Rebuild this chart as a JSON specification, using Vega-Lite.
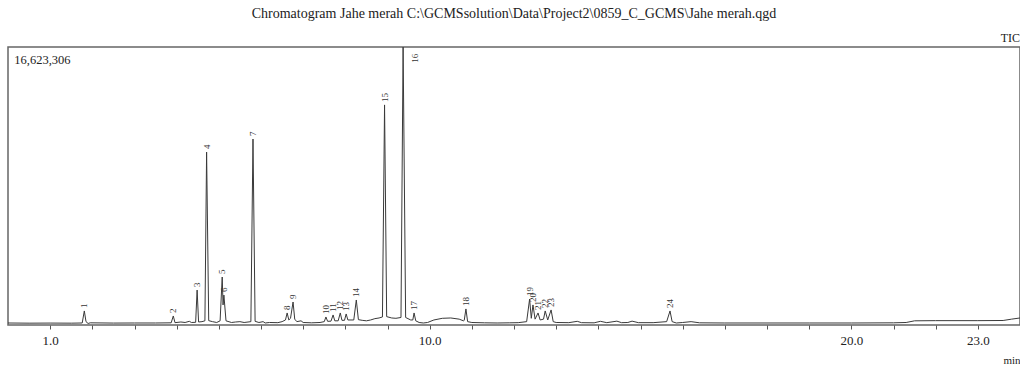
{
  "$schema": "https://vega.github.io/schema/vega-lite/v6.json",
  "width": 1012,
  "height": 278,
  "autosize": {"type": "none"},
  "padding": {"left": 8, "top": 47, "right": 0, "bottom": 40},
  "title": {
    "text": "Chromatogram Jahe merah C:\\GCMSsolution\\Data\\Project2\\0859_C_GCMS\\Jahe merah.qgd",
    "font": "Liberation Serif",
    "fontSize": 14,
    "fontWeight": "normal",
    "color": "#222",
    "anchor": "middle",
    "offset": 11
  },
  "config": {
    "view": {"stroke": "#666", "strokeWidth": 1.5},
    "font": "Liberation Serif"
  },
  "datasets": {
    "tic": [
      {"time": 0.0, "intensity": 120000},
      {"time": 0.5, "intensity": 110000},
      {"time": 1.0, "intensity": 115000},
      {"time": 1.5, "intensity": 110000},
      {"time": 1.76, "intensity": 120000},
      {"time": 1.81, "intensity": 840000},
      {"time": 1.85, "intensity": 200000},
      {"time": 1.9, "intensity": 90000},
      {"time": 1.95, "intensity": 130000},
      {"time": 2.5, "intensity": 115000},
      {"time": 3.0, "intensity": 120000},
      {"time": 3.5, "intensity": 120000},
      {"time": 3.87, "intensity": 130000},
      {"time": 3.92, "intensity": 540000},
      {"time": 3.96, "intensity": 140000},
      {"time": 4.1, "intensity": 180000},
      {"time": 4.2, "intensity": 150000},
      {"time": 4.3, "intensity": 220000},
      {"time": 4.35, "intensity": 150000},
      {"time": 4.45, "intensity": 160000},
      {"time": 4.485, "intensity": 2090000},
      {"time": 4.52, "intensity": 180000},
      {"time": 4.6, "intensity": 200000},
      {"time": 4.67, "intensity": 250000},
      {"time": 4.71, "intensity": 10340000},
      {"time": 4.76, "intensity": 260000},
      {"time": 4.85, "intensity": 200000},
      {"time": 4.95, "intensity": 150000},
      {"time": 5.03, "intensity": 250000},
      {"time": 5.08, "intensity": 2870000},
      {"time": 5.10, "intensity": 1200000},
      {"time": 5.12, "intensity": 1790000},
      {"time": 5.17, "intensity": 250000},
      {"time": 5.3, "intensity": 150000},
      {"time": 5.4, "intensity": 180000},
      {"time": 5.5, "intensity": 200000},
      {"time": 5.6, "intensity": 150000},
      {"time": 5.76, "intensity": 200000},
      {"time": 5.81, "intensity": 11120000},
      {"time": 5.86, "intensity": 220000},
      {"time": 5.95, "intensity": 150000},
      {"time": 6.05, "intensity": 200000},
      {"time": 6.1, "intensity": 120000},
      {"time": 6.2, "intensity": 150000},
      {"time": 6.4, "intensity": 140000},
      {"time": 6.5, "intensity": 200000},
      {"time": 6.58, "intensity": 300000},
      {"time": 6.62, "intensity": 720000},
      {"time": 6.66, "intensity": 300000},
      {"time": 6.7, "intensity": 400000},
      {"time": 6.76, "intensity": 1375000},
      {"time": 6.8, "intensity": 350000},
      {"time": 6.85, "intensity": 200000},
      {"time": 6.95, "intensity": 250000},
      {"time": 7.0, "intensity": 150000},
      {"time": 7.2, "intensity": 130000},
      {"time": 7.4, "intensity": 150000},
      {"time": 7.5, "intensity": 200000},
      {"time": 7.54, "intensity": 480000},
      {"time": 7.58, "intensity": 220000},
      {"time": 7.66, "intensity": 230000},
      {"time": 7.71, "intensity": 600000},
      {"time": 7.75, "intensity": 250000},
      {"time": 7.83, "intensity": 250000},
      {"time": 7.88, "intensity": 720000},
      {"time": 7.92, "intensity": 280000},
      {"time": 7.98, "intensity": 280000},
      {"time": 8.02, "intensity": 660000},
      {"time": 8.06, "intensity": 300000},
      {"time": 8.2, "intensity": 300000},
      {"time": 8.26, "intensity": 1495000},
      {"time": 8.31, "intensity": 320000},
      {"time": 8.4, "intensity": 280000},
      {"time": 8.5, "intensity": 250000},
      {"time": 8.6, "intensity": 300000},
      {"time": 8.7, "intensity": 380000},
      {"time": 8.8, "intensity": 420000},
      {"time": 8.88, "intensity": 480000},
      {"time": 8.93, "intensity": 13160000},
      {"time": 8.98, "intensity": 500000},
      {"time": 9.1, "intensity": 420000},
      {"time": 9.2, "intensity": 400000},
      {"time": 9.32, "intensity": 450000},
      {"time": 9.37, "intensity": 16620000},
      {"time": 9.43, "intensity": 450000},
      {"time": 9.55, "intensity": 300000},
      {"time": 9.6, "intensity": 300000},
      {"time": 9.63, "intensity": 720000},
      {"time": 9.67, "intensity": 250000},
      {"time": 9.75, "intensity": 150000},
      {"time": 9.85, "intensity": 120000},
      {"time": 9.95, "intensity": 150000},
      {"time": 10.1, "intensity": 300000},
      {"time": 10.3, "intensity": 400000},
      {"time": 10.5, "intensity": 420000},
      {"time": 10.7, "intensity": 350000},
      {"time": 10.8, "intensity": 250000},
      {"time": 10.82, "intensity": 280000},
      {"time": 10.86, "intensity": 960000},
      {"time": 10.9, "intensity": 200000},
      {"time": 11.0, "intensity": 150000},
      {"time": 11.3, "intensity": 130000},
      {"time": 11.6, "intensity": 120000},
      {"time": 11.9, "intensity": 130000},
      {"time": 12.1, "intensity": 140000},
      {"time": 12.3, "intensity": 200000},
      {"time": 12.37, "intensity": 1550000},
      {"time": 12.41, "intensity": 400000},
      {"time": 12.45, "intensity": 1200000},
      {"time": 12.5, "intensity": 350000},
      {"time": 12.57, "intensity": 720000},
      {"time": 12.62, "intensity": 300000},
      {"time": 12.7, "intensity": 350000},
      {"time": 12.74, "intensity": 840000},
      {"time": 12.8, "intensity": 300000},
      {"time": 12.88, "intensity": 900000},
      {"time": 12.93, "intensity": 200000},
      {"time": 13.0, "intensity": 150000},
      {"time": 13.3, "intensity": 140000},
      {"time": 13.5, "intensity": 220000},
      {"time": 13.6, "intensity": 140000},
      {"time": 13.9, "intensity": 130000},
      {"time": 14.05, "intensity": 220000},
      {"time": 14.2, "intensity": 140000},
      {"time": 14.44, "intensity": 230000},
      {"time": 14.55, "intensity": 140000},
      {"time": 14.7, "intensity": 150000},
      {"time": 14.8, "intensity": 230000},
      {"time": 14.95, "intensity": 140000},
      {"time": 15.3, "intensity": 140000},
      {"time": 15.62, "intensity": 200000},
      {"time": 15.70, "intensity": 840000},
      {"time": 15.75, "intensity": 200000},
      {"time": 15.85, "intensity": 120000},
      {"time": 16.0, "intensity": 150000},
      {"time": 16.2, "intensity": 200000},
      {"time": 16.4, "intensity": 130000},
      {"time": 17.0, "intensity": 120000},
      {"time": 18.0, "intensity": 120000},
      {"time": 19.0, "intensity": 120000},
      {"time": 20.0, "intensity": 120000},
      {"time": 21.0, "intensity": 130000},
      {"time": 21.3, "intensity": 150000},
      {"time": 21.5, "intensity": 250000},
      {"time": 22.0, "intensity": 260000},
      {"time": 23.0, "intensity": 260000},
      {"time": 23.6, "intensity": 270000},
      {"time": 23.8, "intensity": 350000},
      {"time": 24.0, "intensity": 420000}
    ],
    "peaks": [
      {"label": "1", "time": 1.81, "intensity": 840000},
      {"label": "2", "time": 3.92, "intensity": 540000},
      {"label": "3", "time": 4.485, "intensity": 2090000},
      {"label": "4", "time": 4.71, "intensity": 10340000},
      {"label": "5", "time": 5.08, "intensity": 2870000},
      {"label": "6", "time": 5.12, "intensity": 1790000},
      {"label": "7", "time": 5.81, "intensity": 11120000},
      {"label": "8", "time": 6.62, "intensity": 720000},
      {"label": "9", "time": 6.76, "intensity": 1375000},
      {"label": "10", "time": 7.54, "intensity": 480000},
      {"label": "11", "time": 7.71, "intensity": 600000},
      {"label": "12", "time": 7.88, "intensity": 720000},
      {"label": "13", "time": 8.02, "intensity": 660000},
      {"label": "14", "time": 8.26, "intensity": 1495000},
      {"label": "15", "time": 8.93, "intensity": 13160000},
      {"label": "16", "time": 9.66, "intensity": 15500000},
      {"label": "17", "time": 9.63, "intensity": 720000},
      {"label": "18", "time": 10.86, "intensity": 960000},
      {"label": "19", "time": 12.37, "intensity": 1550000},
      {"label": "20", "time": 12.45, "intensity": 1200000},
      {"label": "21", "time": 12.57, "intensity": 720000},
      {"label": "22", "time": 12.74, "intensity": 840000},
      {"label": "23", "time": 12.88, "intensity": 900000},
      {"label": "24", "time": 15.70, "intensity": 840000}
    ],
    "notes": [
      {"text": "16,623,306", "time": 0.15, "intensity": 15600000}
    ],
    "corner": [
      {"text": "TIC", "time": 24.0, "intensity": 16920000}
    ]
  },
  "layer": [
    {
      "data": {"name": "tic"},
      "mark": {"type": "line", "color": "#3a3a3a", "strokeWidth": 1, "clip": true},
      "encoding": {
        "x": {
          "field": "time",
          "type": "quantitative",
          "scale": {"domain": [0, 24], "nice": false, "zero": false},
          "axis": {
            "values": [1, 2, 3, 4, 5, 6, 7, 8, 9, 10, 11, 12, 13, 14, 15, 16, 17, 18, 19, 20, 21, 22, 23],
            "labelExpr": "datum.value == 1 || datum.value == 10 || datum.value == 20 || datum.value == 23 ? format(datum.value, '.1f') : ''",
            "domain": false,
            "grid": false,
            "ticks": true,
            "tickSize": 4,
            "tickColor": "#555",
            "labelFont": "Liberation Serif",
            "labelFontSize": 13,
            "labelColor": "#222",
            "labelPadding": 5,
            "labelFlush": false,
            "labelOverlap": false,
            "title": "min",
            "titleFont": "Liberation Serif",
            "titleFontSize": 11,
            "titleFontWeight": "normal",
            "titleColor": "#222",
            "titleAnchor": "end",
            "titleAlign": "right",
            "titleX": 1012,
            "titleY": 38,
            "titleBaseline": "alphabetic"
          }
        },
        "y": {
          "field": "intensity",
          "type": "quantitative",
          "scale": {"domain": [0, 16623306], "nice": false},
          "axis": null
        }
      }
    },
    {
      "data": {"name": "peaks"},
      "mark": {"type": "text", "angle": 270, "align": "left", "baseline": "middle", "fontSize": 9, "dx": 3, "color": "#333", "font": "Liberation Serif"},
      "encoding": {
        "x": {"field": "time", "type": "quantitative"},
        "y": {"field": "intensity", "type": "quantitative"},
        "text": {"field": "label"}
      }
    },
    {
      "data": {"name": "notes"},
      "mark": {"type": "text", "align": "left", "baseline": "alphabetic", "fontSize": 12.5, "color": "#222", "font": "Liberation Serif"},
      "encoding": {
        "x": {"field": "time", "type": "quantitative"},
        "y": {"field": "intensity", "type": "quantitative"},
        "text": {"field": "text"}
      }
    },
    {
      "data": {"name": "corner"},
      "mark": {"type": "text", "align": "right", "baseline": "alphabetic", "fontSize": 12, "color": "#222", "font": "Liberation Serif"},
      "encoding": {
        "x": {"field": "time", "type": "quantitative"},
        "y": {"field": "intensity", "type": "quantitative"},
        "text": {"field": "text"}
      }
    }
  ]
}
